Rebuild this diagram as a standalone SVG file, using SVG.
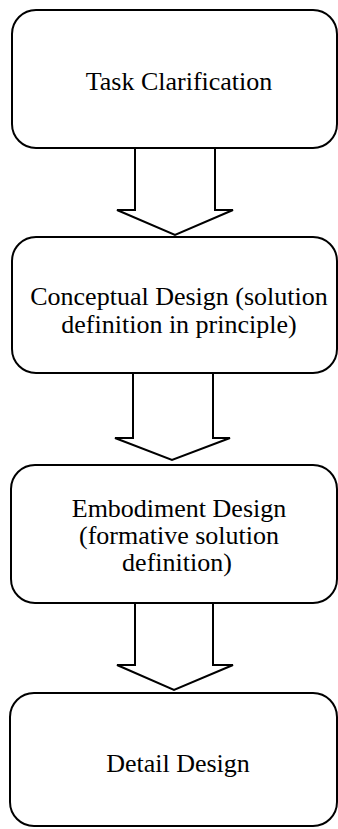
<svg xmlns="http://www.w3.org/2000/svg" width="338" height="829" viewBox="0 0 338 829">
  <style>
    .box { fill: #ffffff; stroke: #000000; stroke-width: 2; }
    .arrow { fill: #ffffff; stroke: #000000; stroke-width: 2; stroke-linejoin: miter; }
    .label { font-family: "Liberation Serif", "Times New Roman", serif; font-size: 26px; fill: #000000; text-anchor: middle; }
  </style>
  <rect width="338" height="829" fill="#ffffff"/>

  <g id="task-clarification">
    <rect class="box" x="12" y="10" width="325" height="138" rx="24" ry="24"/>
    <text class="label" x="179" y="90">Task Clarification</text>
  </g>

  <g id="conceptual-design">
    <rect class="box" x="12" y="237" width="325" height="136" rx="24" ry="24"/>
    <text class="label" x="179" y="305">Conceptual Design (solution</text>
    <text class="label" x="179" y="333">definition in principle)</text>
  </g>

  <g id="embodiment-design">
    <rect class="box" x="11" y="465" width="326" height="138" rx="24" ry="24"/>
    <text class="label" x="179" y="517">Embodiment Design</text>
    <text class="label" x="179" y="544">(formative solution</text>
    <text class="label" x="177" y="571">definition)</text>
  </g>

  <g id="detail-design">
    <rect class="box" x="10" y="693" width="327" height="133" rx="24" ry="24"/>
    <text class="label" x="178" y="772">Detail Design</text>
  </g>

  <g id="connectors">
    <polygon class="arrow" points="135,148 215,148 215,210 233,210 175,235 117,210 135,210"/>
    <polygon class="arrow" points="133,373 213,373 213,438 230,438 172,460 115,438 133,438"/>
    <polygon class="arrow" points="135,603 213,603 213,665 233,665 174,690 117,665 135,665"/>
  </g>
</svg>
